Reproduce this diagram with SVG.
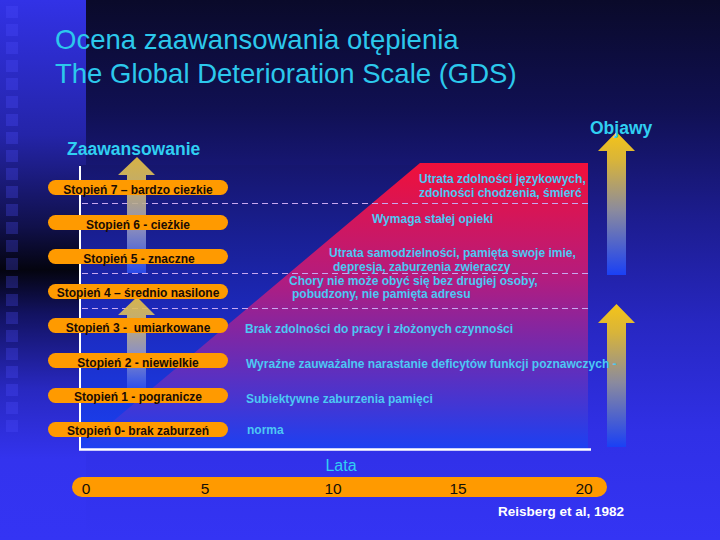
<svg xmlns="http://www.w3.org/2000/svg" width="720" height="540" viewBox="0 0 720 540">
<defs>
<linearGradient id="bg" x1="0" y1="0" x2="0" y2="540" gradientUnits="userSpaceOnUse">
<stop offset="0" stop-color="#0a0a2a"/>
<stop offset="0.2" stop-color="#101052"/>
<stop offset="0.4" stop-color="#1c1c8e"/>
<stop offset="0.6" stop-color="#2727c2"/>
<stop offset="0.8" stop-color="#3030e6"/>
<stop offset="1" stop-color="#3434f4"/>
</linearGradient>
<linearGradient id="strip" x1="0" y1="0" x2="0" y2="540" gradientUnits="userSpaceOnUse">
<stop offset="0" stop-color="#3232e6"/>
<stop offset="0.25" stop-color="#2424a8"/>
<stop offset="0.42" stop-color="#10104a"/>
<stop offset="0.5" stop-color="#04040f"/>
<stop offset="0.58" stop-color="#121260"/>
<stop offset="0.72" stop-color="#2828c0"/>
<stop offset="0.85" stop-color="#3333ee"/>
<stop offset="1" stop-color="#3434f4"/>
</linearGradient>
<linearGradient id="panel" x1="0" y1="165" x2="0" y2="449" gradientUnits="userSpaceOnUse">
<stop offset="0" stop-color="#16166e"/>
<stop offset="0.5" stop-color="#1c28b8"/>
<stop offset="1" stop-color="#1a40f2"/>
</linearGradient>
<linearGradient id="red" x1="0" y1="163" x2="0" y2="449" gradientUnits="userSpaceOnUse">
<stop offset="0" stop-color="#f0103a"/>
<stop offset="0.4" stop-color="#b41c7e"/>
<stop offset="0.62" stop-color="#7a28a8"/>
<stop offset="1" stop-color="#1c40f2"/>
</linearGradient>
<linearGradient id="arr" x1="0" y1="0" x2="0" y2="1">
<stop offset="0" stop-color="#f5c418"/>
<stop offset="0.2" stop-color="#d8b43a"/>
<stop offset="0.55" stop-color="#8a8a9e"/>
<stop offset="1" stop-color="#1a40f5"/>
</linearGradient>
<linearGradient id="arrL" x1="0" y1="0" x2="0" y2="1">
<stop offset="0" stop-color="#ecc440"/>
<stop offset="0.25" stop-color="#d4bc6a"/>
<stop offset="0.6" stop-color="#9a9cc0"/>
<stop offset="1" stop-color="#2c50f0"/>
</linearGradient>
<style>
text{font-family:"Liberation Sans",Arial,sans-serif}
.pill{fill:#ff9a00}
.pt{font-size:12px;font-weight:bold;fill:#1a0c04;text-anchor:middle}
.rt{font-size:12px;font-weight:bold;fill:#4cc8f4}
.dash{stroke:#c8a8f0;stroke-width:1;stroke-dasharray:6 4;fill:none}
.ax{stroke:#ffffff;fill:none}
.num{font-size:15.5px;fill:#141008;text-anchor:middle}
.sq{fill:#5050ff;opacity:0.28}
</style>
</defs>

<!-- background -->
<rect x="0" y="0" width="720" height="540" fill="url(#bg)"/>
<rect x="0" y="0" width="86" height="540" fill="url(#strip)"/>
<g id="squares">
<rect class="sq" x="6" y="6" width="12" height="12"/>
<rect class="sq" x="6" y="24" width="12" height="12"/>
<rect class="sq" x="6" y="42" width="12" height="12"/>
<rect class="sq" x="6" y="60" width="12" height="12"/>
<rect class="sq" x="6" y="78" width="12" height="12"/>
<rect class="sq" x="6" y="96" width="12" height="12"/>
<rect class="sq" x="6" y="114" width="12" height="12"/>
<rect class="sq" x="6" y="132" width="12" height="12"/>
<rect class="sq" x="6" y="150" width="12" height="12"/>
<rect class="sq" x="6" y="168" width="12" height="12"/>
<rect class="sq" x="6" y="186" width="12" height="12"/>
<rect class="sq" x="6" y="204" width="12" height="12"/>
<rect class="sq" x="6" y="222" width="12" height="12"/>
<rect class="sq" x="6" y="240" width="12" height="12"/>
<rect class="sq" x="6" y="258" width="12" height="12"/>
<rect class="sq" x="6" y="276" width="12" height="12"/>
<rect class="sq" x="6" y="294" width="12" height="12"/>
<rect class="sq" x="6" y="312" width="12" height="12"/>
<rect class="sq" x="6" y="330" width="12" height="12"/>
<rect class="sq" x="6" y="348" width="12" height="12"/>
<rect class="sq" x="6" y="366" width="12" height="12"/>
<rect class="sq" x="6" y="384" width="12" height="12"/>
<rect class="sq" x="6" y="402" width="12" height="12"/>
<rect class="sq" x="6" y="420" width="12" height="12" opacity="0.15"/>
</g>

<!-- title -->
<g id="title" fill="#2cc8ec" font-size="27.5">
<text x="55" y="49">Ocena zaawansowania otępienia</text>
<text x="55" y="83">The Global Deterioration Scale (GDS)</text>
</g>

<!-- plot panel -->
<g id="plot">
<rect x="80" y="165" width="508" height="284" fill="url(#panel)"/>
<polygon points="80,449 420,163 588,163 588,449" fill="url(#red)"/>
<line class="dash" x1="82" y1="203.5" x2="588" y2="203.5"/>
<line class="dash" x1="82" y1="273.5" x2="588" y2="273.5"/>
<line class="dash" x1="82" y1="308.5" x2="588" y2="308.5"/>
<line class="ax" x1="80" y1="166" x2="80" y2="450" stroke-width="2"/>
<line class="ax" x1="79" y1="449.5" x2="591" y2="449.5" stroke-width="2.5"/>
</g>

<!-- connectors (arrows) -->
<g id="connectors">
<polygon points="137,157 155,175 146,175 146,273 127,273 127,175 118,175" fill="url(#arrL)" opacity="0.9"/>
<polygon points="137,297 155,315 146,315 146,389 127,389 127,315 118,315" fill="url(#arrL)" opacity="0.9"/>
<polygon points="616.5,132 635,151 626,151 626,275 607,275 607,151 598,151" fill="url(#arr)"/>
<polygon points="616.5,304 635,323 626,323 626,447 607,447 607,323 598,323" fill="url(#arr)"/>
</g>

<g id="axis-labels" font-weight="bold" fill="#30cff2" font-size="17.5">
<text id="zaawansowanie" x="67" y="155">Zaawansowanie</text>
<text id="objawy" x="590" y="134">Objawy</text>
</g>

<!-- stage pills -->
<g id="s7"><rect class="pill" x="48" y="180" width="180" height="15" rx="7.5"/><text class="pt" x="138" y="194">Stopień 7 – bardzo ciezkie</text></g>
<g id="s6"><rect class="pill" x="48" y="215" width="180" height="15" rx="7.5"/><text class="pt" x="138" y="228.5">Stopień 6 - cieżkie</text></g>
<g id="s5"><rect class="pill" x="48" y="249" width="180" height="15" rx="7.5"/><text class="pt" x="139" y="263">Stopień 5 - znaczne</text></g>
<g id="s4"><rect class="pill" x="48" y="284" width="180" height="15" rx="7.5"/><text class="pt" x="138" y="297">Stopień 4 – średnio nasilone</text></g>
<g id="s3"><rect class="pill" x="48" y="318" width="180" height="15" rx="7.5"/><text class="pt" x="138" y="332" style="white-space:pre">Stopień 3 -  umiarkowane</text></g>
<g id="s2"><rect class="pill" x="48" y="353" width="180" height="15" rx="7.5"/><text class="pt" x="138" y="367">Stopień 2 - niewielkie</text></g>
<g id="s1"><rect class="pill" x="48" y="388" width="180" height="15" rx="7.5"/><text class="pt" x="138" y="401">Stopień 1 - pogranicze</text></g>
<g id="s0"><rect class="pill" x="48" y="422" width="180" height="15" rx="7.5"/><text class="pt" x="138" y="435">Stopień 0- brak zaburzeń</text></g>

<!-- symptoms -->
<g id="symptoms">
<text class="rt" x="419" y="183">Utrata zdolności językowych,</text>
<text class="rt" x="419" y="197">zdolności chodzenia, śmierć</text>
<text class="rt" x="372" y="223">Wymaga stałej opieki</text>
<text class="rt" x="329" y="257">Utrata samodzielności, pamięta swoje imie,</text>
<text class="rt" x="333" y="271">depresja, zaburzenia zwieraczy</text>
<text class="rt" x="289" y="285">Chory nie może obyć się bez drugiej osoby,</text>
<text class="rt" x="292" y="298">pobudzony, nie pamięta adresu</text>
<text class="rt" x="245" y="333">Brak zdolności do pracy i złożonych czynności</text>
<text class="rt" x="246" y="368">Wyraźne zauważalne narastanie deficytów funkcji poznawczych -</text>
<text class="rt" x="246" y="403">Subiektywne zaburzenia pamięci</text>
<text class="rt" x="247" y="434">norma</text>
</g>

<!-- time axis -->
<g id="time-axis">
<text x="341" y="471" font-size="16" fill="#30cff2" text-anchor="middle">Lata</text>
<rect class="pill" x="72" y="477" width="535" height="20" rx="10"/>
<text class="num" x="86" y="494">0</text>
<text class="num" x="205" y="494">5</text>
<text class="num" x="333" y="494">10</text>
<text class="num" x="458" y="494">15</text>
<text class="num" x="584" y="494">20</text>
</g>

<g id="citation"><text x="498" y="516" font-size="13.5" font-weight="bold" fill="#ffffff">Reisberg et al, 1982</text></g>
</svg>
